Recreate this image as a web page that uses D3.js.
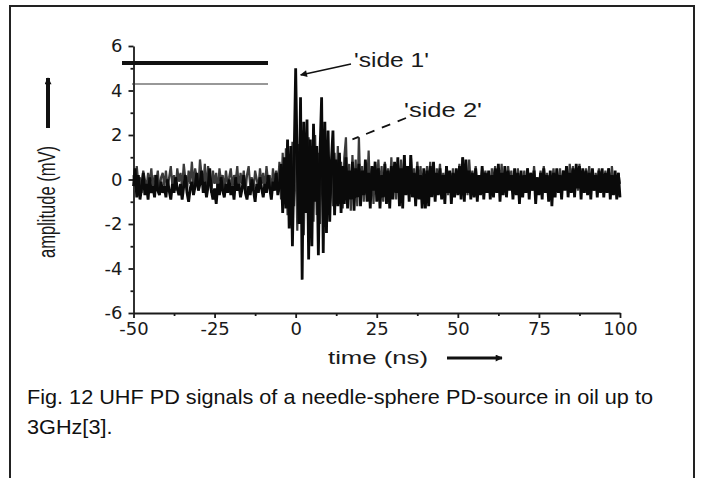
<!DOCTYPE html>
<html>
<head>
<meta charset="utf-8">
<script src="https://cdn.jsdelivr.net/npm/d3@7"></script>
<style>
  body { margin: 0; background: #fff; }
  svg { display: block; }
</style>
</head>
<body>
<div id="chart"></div>
<script>
// sampling grid of the scope trace, 0.5 ns
var times = d3.range(-50, 100.25, 0.5);

// 'side 1' (black) amplitude in mV, one value per sample, rows of 5 ns
var side1 = [
  -0.3, 0.5, -0.8, 0.2, -0.9, -0.4, 0.3, -0.7, -0.2, -0.9,
  0.1, -0.6, -0.3, -0.8, 0.2, -0.5, -0.7, -0.1, -0.6, -0.3,
  -0.8, 0.0, -0.5, -0.9, -0.2, -0.6, 0.1, -0.4, -0.7, -0.2,
  -0.9, -0.3, 0.2, -0.6, -1.0, -0.4, -0.1, -0.7, -0.3, 0.3,
  -0.5, -0.2, 0.4, -0.6, -0.1, -0.8, -0.3, 0.5, -0.5, -0.9,
  -0.4, -1.1, -0.2, -0.7, 0.1, -0.5, -0.8, -0.2, -0.6, 0.0,
  -0.7, -0.3, -0.9, 0.1, -0.5, -0.2, -0.8, -0.4, 0.2, -0.6,
  -0.9, -0.3, -0.7, 0.0, -0.5, -1.0, -0.2, -0.6, 0.1, -0.4,
  -0.8, -0.2, -0.6, 0.2, -0.4, -0.9, -0.1, -0.5, 0.3, -0.7,
  -0.3, 0.7, -1.5, 1.0, -1.3, 1.8, -2.2, 1.5, -3.0, 0.8,
  5.0, 0.5, -2.0, 3.7, -4.5, 2.6, -1.5, 2.7, -3.6, 1.8,
  -3.0, 2.5, -1.0, 1.5, -3.4, 1.2, 3.7, -3.3, 2.6, -2.4,
  2.2, -1.9, 0.8, 2.2, -1.6, 0.9, -1.2, 1.2, -1.5, 0.6,
  -1.1, 1.0, -1.3, 0.4, -0.9, 0.8, -1.4, 0.5, -0.8, 0.7,
  -1.2, 0.4, -0.7, 0.9, -1.0, 0.3, -1.3, 0.6, -0.5, 0.8,
  -1.0, 0.5, -1.3, 0.2, -0.8, 0.7, -1.1, 0.4, -1.3, 0.6,
  -0.9, 0.8, -0.6, 1.0, -1.2, 0.5, -1.3, 1.1, -0.7, 0.6,
  -1.0, 1.1, -0.8, 0.3, -1.2, 0.6, -0.9, 0.2, -1.3, 0.5,
  -1.3, 0.4, -1.2, 0.6, -0.8, 0.8, -1.0, 0.3, -0.7, 0.5,
  -0.9, 0.2, -1.1, 0.6, -0.6, 0.4, -1.1, 0.3, -0.8, 0.5,
  -0.7, 0.6, -0.9, 1.0, -1.0, 0.9, -0.6, 0.4, -0.9, 0.3,
  -0.8, 0.5, -1.0, 0.2, -0.7, 0.6, -0.9, 0.3, -0.6, 0.4,
  -0.9, 0.2, -0.8, 0.5, -0.6, 0.7, -1.0, 0.3, -0.7, 0.6,
  -0.8, 0.4, -0.5, 0.2, -0.9, 0.5, -0.7, 0.3, -1.1, 0.4,
  -0.8, 0.2, -0.6, 0.5, -0.9, 0.3, -0.5, 0.4, -1.1, 0.1,
  -0.7, 0.3, -0.9, 0.5, -0.6, 0.2, -1.0, 0.4, -1.2, 0.3,
  -0.8, 0.5, -0.6, 0.2, -0.9, 0.4, -0.5, 0.6, -0.8, 0.3,
  -0.6, 0.5, -0.8, 0.7, -0.4, 0.6, -0.9, 0.5, -0.6, 0.4,
  -0.7, 0.3, -0.9, 0.5, -0.5, 0.2, -0.8, 0.4, -0.6, 0.5,
  -0.8, 0.3, -0.6, 0.5, -0.9, 0.2, -0.7, 0.4, -0.9, 0.3,
  -0.8
];

// 'side 2' (grey) amplitude in mV
var side2 = [
  0.2, -0.5, 0.6, -0.2, 0.1, -0.6, 0.4, 0.0, -0.4, 0.3,
  -0.2, 0.5, -0.5, 0.2, -0.1, 0.4, -0.6, 0.1, 0.3, -0.3,
  0.4, -0.4, 0.1, 0.6, -0.3, 0.2, -0.5, 0.5, -0.1, 0.3,
  -0.4, 0.7, 0.0, -0.5, 0.4, -0.2, 0.8, -0.3, 0.5, 0.1,
  -0.4, 0.9, 0.2, -0.3, 0.7, -0.5, 0.6, 0.0, -0.6, 0.4,
  -0.2, 0.3, -0.6, 0.5, -0.1, 0.2, -0.5, 0.4, -0.2, 0.1,
  0.5, -0.4, 0.2, -0.1, 0.6, -0.5, 0.3, -0.2, 0.4, -0.6,
  0.2, 0.6, -0.3, 0.1, -0.5, 0.4, 0.0, -0.4, 0.5, -0.2,
  0.3, -0.5, 0.6, -0.1, 0.2, -0.6, 0.5, -0.2, 0.4, -0.3,
  0.8, -0.9, 1.2, -1.1, 1.4, -1.6, 1.0, -2.0, 1.7, -1.2,
  2.0, -2.3, 1.6, -1.8, 2.2, -2.5, 1.5, -1.4, 1.9, -2.2,
  1.5, -1.9, 2.0, -1.6, 1.2, -2.0, 1.4, -1.3, 1.8, -1.5,
  1.1, -1.4, 0.9, -1.2, 1.2, -0.8, 1.5, -1.1, 0.8, -1.3,
  1.0, 1.9, -0.9, 0.7, -1.4, 1.1, -0.6, 0.9, -1.2, 1.9,
  -0.8, 0.6, -1.0, 0.8, -0.5, 1.3, -0.9, 0.5, -1.1, 0.7,
  -0.6, 0.9, -0.4, 0.6, -1.0, 0.8, -0.3, 0.5, -0.8, 1.0,
  -0.5, 0.4, -0.9, 0.7, -0.2, 0.9, -0.7, 1.1, -0.4, 0.6,
  -0.8, 1.1, -0.3, 0.5, -0.9, 0.8, -0.2, 0.6, -0.6, 0.3,
  -0.7, 0.6, -0.3, 0.8, -0.5, 0.2, -0.8, 0.5, -0.1, 0.7,
  -0.6, 0.3, -0.4, 0.6, -0.7, 0.2, -0.3, 0.5, -0.5, 0.4,
  -0.2, 0.7, -0.6, 1.0, -0.4, 0.3, -0.7, 0.9, -0.2, 0.4,
  -0.5, 0.6, -0.3, 0.2, -0.6, 0.5, -0.1, 0.4, -0.5, 0.3,
  -0.4, 0.5, -0.2, 0.6, -0.6, 0.3, -0.3, 0.7, -0.5, 0.2,
  -0.4, 0.6, -0.1, 0.4, -0.6, 0.3, -0.3, 0.5, -0.5, 0.2,
  -0.3, 0.4, -0.6, 0.5, -0.2, 0.3, -0.5, 0.6, -0.3, 0.1,
  -0.5, 0.4, -0.2, 0.6, -0.4, 0.3, -0.6, 0.2, -0.1, 0.5,
  -0.4, 0.3, -0.2, 0.5, -0.5, 0.4, -0.1, 0.6, -0.3, 0.7,
  -0.2, 0.6, -0.4, 0.3, -0.5, 0.7, -0.2, 0.4, -0.6, 0.5,
  -0.3, 0.6, -0.1, 0.4, -0.5, 0.3, -0.3, 0.5, -0.4, 0.2,
  -0.5, 0.4, -0.2, 0.5, -0.4, 0.6, -0.3, 0.2, -0.5, 0.3,
  -0.2
];

var x_ticks = [-50, -25, 0, 25, 50, 75, 100];
var x_minor_ticks = [-37.5, -12.5, 12.5, 37.5, 62.5, 87.5];
var y_ticks = [-6, -4, -2, 0, 2, 4, 6];
var y_minor_ticks = [-5, -3, -1, 1, 3, 5];

var caption_lines = [
  "Fig. 12 UHF PD signals of a needle-sphere PD-source in oil up to",
  "3GHz[3]."
];

var width = 703,
    height = 478;

var svg = d3.select("#chart").append("svg")
    .attr("width", width)
    .attr("height", height)
    .style("font-family", "'Liberation Sans', Arial, sans-serif");

svg.append("rect")
    .attr("width", width)
    .attr("height", height)
    .attr("fill", "#fff");

// frame round the figure, open at the bottom
svg.append("path")
    .attr("d", "M10,480 V6 H694 V480")
    .attr("fill", "none")
    .attr("stroke", "#222")
    .attr("stroke-width", 2);

var defs = svg.append("defs");
defs.append("marker")
    .attr("id", "head")
    .attr("viewBox", "0 0 10 10")
    .attr("refX", 9).attr("refY", 5)
    .attr("markerWidth", 9).attr("markerHeight", 7)
    .attr("markerUnits", "userSpaceOnUse")
    .attr("orient", "auto")
    .append("path")
    .attr("d", "M0,0 L10,5 L0,10 z")
    .attr("fill", "#111");

var x = d3.scaleLinear().domain([-50, 100]).range([133.5, 620]);
var y = d3.scaleLinear().domain([-6, 6]).range([313, 46]);

var plain = function (d) { return String(d); }; // hyphen minus like the original

var plot = svg.append("g");

// minor ticks first, the main axes draw the line and labels over them
plot.append("g")
    .attr("transform", "translate(0," + y(-6) + ")")
    .call(d3.axisBottom(x).tickValues(x_minor_ticks).tickSize(3).tickFormat(""))
    .call(function (g) { g.select(".domain").remove(); });
plot.append("g")
    .attr("transform", "translate(" + x(-50) + ",0)")
    .call(d3.axisLeft(y).tickValues(y_minor_ticks).tickSize(3).tickFormat(""))
    .call(function (g) { g.select(".domain").remove(); });

plot.append("g")
    .attr("transform", "translate(0," + y(-6) + ")")
    .call(d3.axisBottom(x).tickValues(x_ticks).tickFormat(plain)
        .tickSize(5).tickSizeOuter(0).tickPadding(4));
plot.append("g")
    .attr("transform", "translate(" + x(-50) + ",0)")
    .call(d3.axisLeft(y).tickValues(y_ticks).tickFormat(plain)
        .tickSize(5).tickSizeOuter(0).tickPadding(6));

plot.selectAll(".tick line, .domain")
    .attr("stroke", "#1a1a1a")
    .attr("stroke-width", 1.8);
plot.selectAll(".tick text")
    .attr("fill", "#1a1a1a")
    .style("font-family", "'DejaVu Sans', sans-serif")
    .style("font-size", "18px");

// traces: grey first so the black burst stays on top
var trace = function (values) {
  return values.map(function (v, i) { return {t: times[i], v: v}; });
};
var line = d3.line()
    .x(function (d) { return x(d.t); })
    .y(function (d) { return y(d.v); });

plot.append("path")
    .datum(trace(side2))
    .attr("d", line)
    .attr("fill", "none")
    .attr("stroke", "#3a3a3a")
    .attr("stroke-width", 2.2)
    .attr("stroke-linejoin", "bevel");
plot.append("path")
    .datum(trace(side1))
    .attr("d", line)
    .attr("fill", "none")
    .attr("stroke", "#0a0a0a")
    .attr("stroke-width", 2.8)
    .attr("stroke-linejoin", "bevel");

// legend samples (thick = side 1, thin = side 2), no labels in the original
plot.append("line")
    .attr("x1", 122).attr("x2", 268)
    .attr("y1", 63).attr("y2", 63)
    .attr("stroke", "#111").attr("stroke-width", 4);
plot.append("line")
    .attr("x1", 132).attr("x2", 268)
    .attr("y1", 84).attr("y2", 84)
    .attr("stroke", "#333").attr("stroke-width", 1.2);

// annotations
var note = svg.append("g")
    .style("font-size", "20px")
    .attr("fill", "#1a1a1a");
note.append("text")
    .attr("x", 354).attr("y", 67)
    .attr("textLength", 75).attr("lengthAdjust", "spacingAndGlyphs")
    .text("'side 1'");
note.append("line")
    .attr("x1", 351).attr("y1", 64)
    .attr("x2", x(0) + 5).attr("y2", y(4.7))
    .attr("stroke", "#111").attr("stroke-width", 1.6)
    .attr("marker-end", "url(#head)");
note.append("text")
    .attr("x", 404).attr("y", 117)
    .attr("textLength", 78).attr("lengthAdjust", "spacingAndGlyphs")
    .text("'side 2'");
note.append("line")
    .attr("x1", 406).attr("y1", 118)
    .attr("x2", x(17.5)).attr("y2", y(1.8))
    .attr("stroke", "#111").attr("stroke-width", 1.8)
    .attr("stroke-dasharray", "9,8");

// axis titles with their arrows
svg.append("text")
    .attr("transform", "translate(55,202) scale(1.3,1) rotate(-90)")
    .attr("text-anchor", "middle")
    .attr("textLength", 112).attr("lengthAdjust", "spacingAndGlyphs")
    .style("font-size", "19px")
    .attr("fill", "#1a1a1a")
    .text("amplitude (mV)");
svg.append("line")
    .attr("x1", 48).attr("y1", 128)
    .attr("x2", 48).attr("y2", 78)
    .attr("stroke", "#111").attr("stroke-width", 4)
    .attr("marker-end", "url(#head)");

svg.append("text")
    .attr("x", 328).attr("y", 364)
    .attr("textLength", 100).attr("lengthAdjust", "spacingAndGlyphs")
    .style("font-size", "19px")
    .attr("fill", "#1a1a1a")
    .text("time (ns)");
svg.append("line")
    .attr("x1", 447).attr("y1", 358)
    .attr("x2", 502).attr("y2", 358)
    .attr("stroke", "#111").attr("stroke-width", 3)
    .attr("marker-end", "url(#head)");

// caption, fitted to the width of the first line
var caption = svg.append("g")
    .style("font-size", "21px")
    .attr("fill", "#111");
var cap_text = caption.selectAll("text")
    .data(caption_lines)
    .enter().append("text")
    .attr("x", 27)
    .attr("y", function (d, i) { return 404 + i * 30; })
    .text(function (d) { return d; });
var natural = cap_text.nodes()[0].getComputedTextLength();
var squeeze = 626 / natural;
cap_text.each(function () {
  var len = this.getComputedTextLength() * squeeze;
  d3.select(this).attr("textLength", len).attr("lengthAdjust", "spacingAndGlyphs");
});
</script>
</body>
</html>
